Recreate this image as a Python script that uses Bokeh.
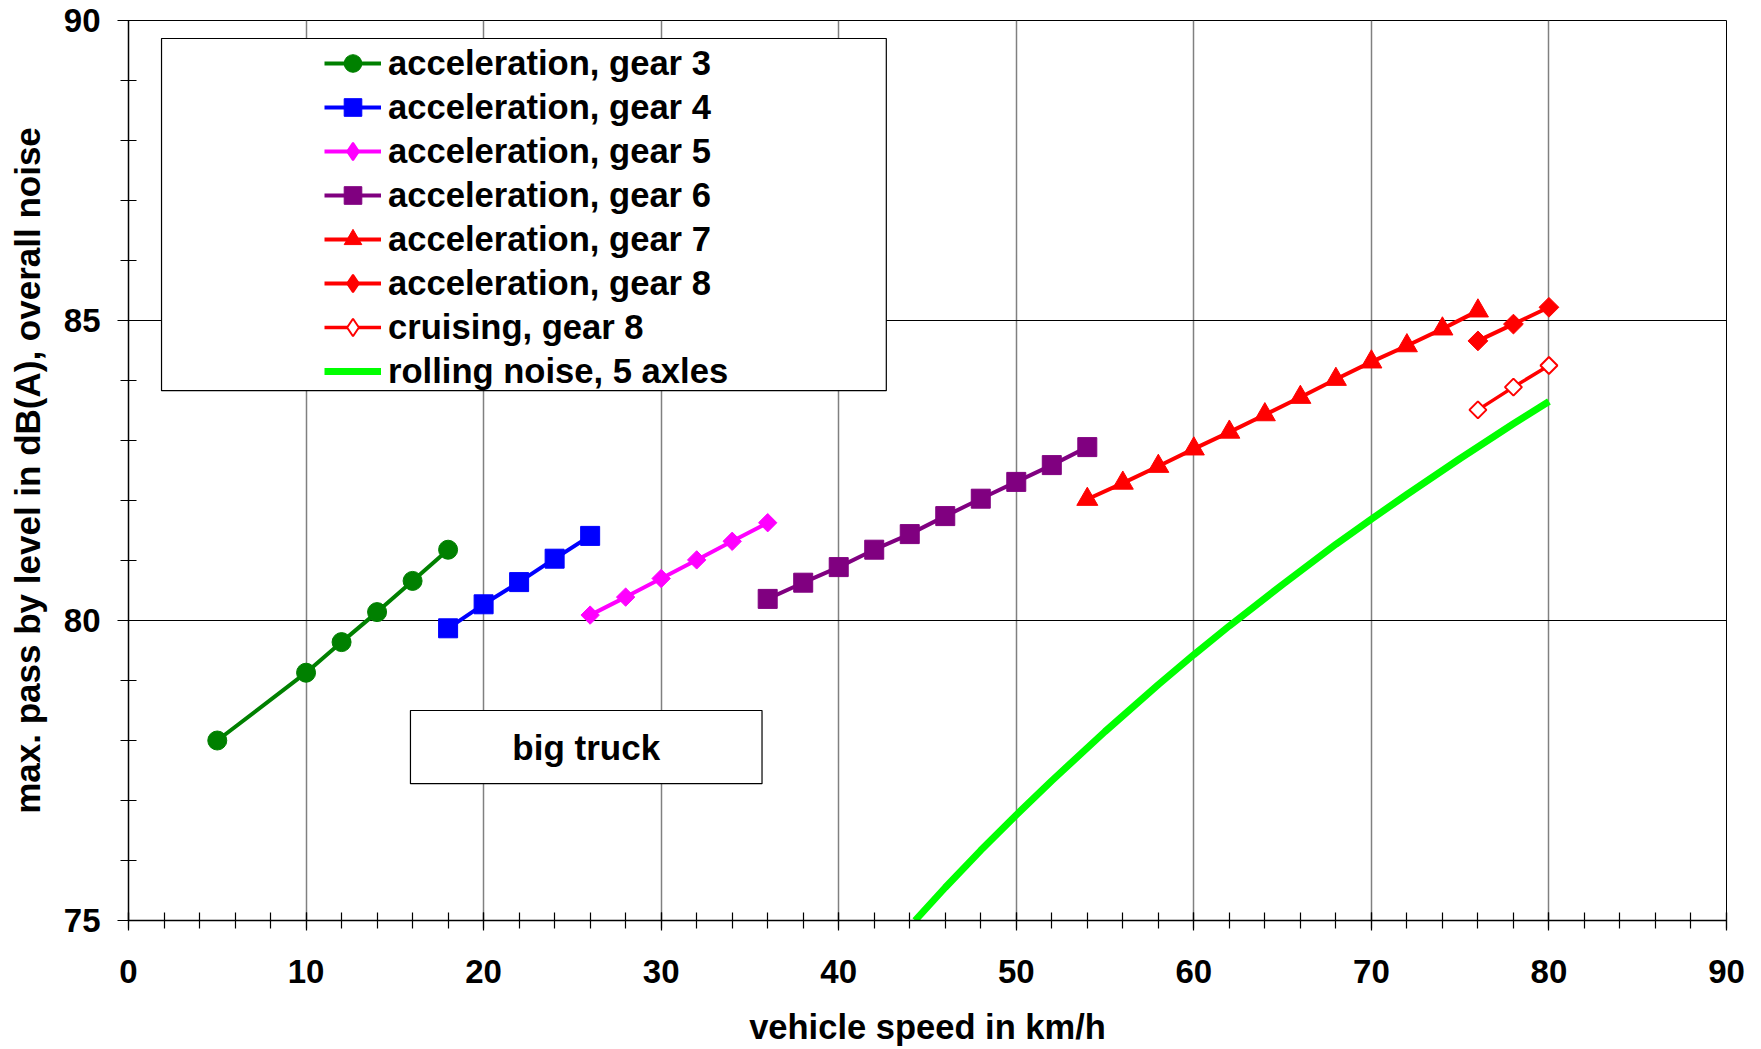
import math
from bokeh.plotting import figure
from bokeh.models import (Range1d, SingleIntervalTicker, Legend, LegendItem,
                          BoxAnnotation, Label)
from bokeh.embed import file_html
from bokeh.resources import INLINE

# ---------------- data ----------------
speed_g3 = [5, 10, 12, 14, 16, 18]
level_g3 = [78.00, 79.13, 79.64, 80.14, 80.66, 81.18]

speed_g4 = [18, 20, 22, 24, 26]
level_g4 = [79.87, 80.27, 80.64, 81.03, 81.41]

speed_g5 = [26, 28, 30, 32, 34, 36]
level_g5 = [80.09, 80.39, 80.70, 81.01, 81.32, 81.63]

speed_g6 = [36, 38, 40, 42, 44, 46, 48, 50, 52, 54]
level_g6 = [80.36, 80.63, 80.89, 81.18, 81.44, 81.74, 82.03, 82.31, 82.59, 82.89]

speed_g7 = [54, 56, 58, 60, 62, 64, 66, 68, 70, 72, 74, 76]
level_g7 = [82.02, 82.29, 82.57, 82.86, 83.14, 83.43, 83.72, 84.02, 84.31, 84.58, 84.86, 85.16]

speed_g8 = [76, 78, 80]
level_g8 = [84.66, 84.94, 85.22]

speed_cruise8 = [76, 78, 80]
level_cruise8 = [83.51, 83.89, 84.25]

speed_rolling = [44.3, 46, 48, 50, 52, 55, 58, 60, 62, 65, 68, 70, 72, 75, 78, 80]
level_rolling = [75.00, 75.55, 76.17, 76.76, 77.33, 78.15, 78.93, 79.43, 79.91,
                 80.60, 81.27, 81.69, 82.10, 82.70, 83.28, 83.65]

labels = ["acceleration, gear 3", "acceleration, gear 4", "acceleration, gear 5",
          "acceleration, gear 6", "acceleration, gear 7", "acceleration, gear 8",
          "cruising, gear 8", "rolling noise, 5 axles"]

FONT = "Liberation Sans"

# ---------------- figure ----------------
p = figure(width=1761, height=1049, output_backend="svg", toolbar_location=None,
           x_range=Range1d(0, 90), y_range=Range1d(75, 90),
           min_border_left=128, min_border_right=35,
           min_border_top=20, min_border_bottom=129)
p.outline_line_color = "black"
p.outline_line_width = 1
p.background_fill_color = "white"
p.border_fill_color = "white"

p.xaxis.ticker = SingleIntervalTicker(interval=10, num_minor_ticks=5)
p.yaxis.ticker = SingleIntervalTicker(interval=5, num_minor_ticks=5)

for ax in (p.xaxis[0], p.yaxis[0]):
    ax.axis_line_color = "black"
    ax.axis_line_width = 1.5
    ax.major_tick_line_color = "black"
    ax.minor_tick_line_color = "black"
    ax.major_tick_line_width = 1.2
    ax.minor_tick_line_width = 1.2
    ax.major_label_text_font = FONT
    ax.major_label_text_font_style = "bold"
    ax.major_label_text_font_size = "33px"
    ax.major_label_text_color = "black"
    ax.axis_label_text_font = FONT
    ax.axis_label_text_font_style = "bold"
    ax.axis_label_text_color = "black"

p.xaxis.major_tick_in = 8
p.xaxis.major_tick_out = 10
p.xaxis.minor_tick_in = 8
p.xaxis.minor_tick_out = 8
p.xaxis.major_label_standoff = 29
p.xaxis.axis_label = "vehicle speed in km/h"
p.xaxis.axis_label_text_font_size = "34.5px"
p.xaxis.axis_label_standoff = 22

p.yaxis.major_tick_in = 0
p.yaxis.major_tick_out = 11
p.yaxis.minor_tick_in = 8
p.yaxis.minor_tick_out = 8
p.yaxis.major_label_standoff = 17
p.yaxis.axis_label = "max. pass by level in dB(A), overall noise"
p.yaxis.axis_label_text_font_size = "35px"
p.yaxis.axis_label_standoff = 14

p.xgrid.grid_line_color = "#808080"
p.xgrid.grid_line_width = 1.5
p.ygrid.grid_line_color = "black"
p.ygrid.grid_line_width = 1

# ---------------- series ----------------
GREEN = "#008000"
BLUE = "#0000FF"
MAGENTA = "#FF00FF"
PURPLE = "#800080"
RED = "#FF0000"
LIME = "#00FF00"
DIAMOND = math.pi / 4

items = []

l3 = p.line(speed_g3, level_g3, line_color=GREEN, line_width=4)
m3 = p.scatter(speed_g3, level_g3, marker="circle", size=19,
               fill_color=GREEN, line_color=GREEN)
items.append(LegendItem(label=labels[0], renderers=[l3, m3]))

l4 = p.line(speed_g4, level_g4, line_color=BLUE, line_width=4)
m4 = p.scatter(speed_g4, level_g4, marker="square", size=19,
               fill_color=BLUE, line_color=BLUE)
items.append(LegendItem(label=labels[1], renderers=[l4, m4]))

l5 = p.line(speed_g5, level_g5, line_color=MAGENTA, line_width=4)
m5 = p.scatter(speed_g5, level_g5, marker="square", size=13, angle=DIAMOND,
               fill_color=MAGENTA, line_color=MAGENTA)
# legend swatch only (hidden in the plot): a diamond marker
k5 = p.scatter(speed_g5, level_g5, marker="diamond", fill_color=MAGENTA,
               line_color=MAGENTA, line_width=2, visible=False)
items.append(LegendItem(label=labels[2], renderers=[l5, k5]))

l6 = p.line(speed_g6, level_g6, line_color=PURPLE, line_width=4)
m6 = p.scatter(speed_g6, level_g6, marker="square", size=19,
               fill_color=PURPLE, line_color=PURPLE)
items.append(LegendItem(label=labels[3], renderers=[l6, m6]))

l7 = p.line(speed_g7, level_g7, line_color=RED, line_width=4)
m7 = p.scatter(speed_g7, level_g7, marker="triangle", size=21,
               fill_color=RED, line_color=RED)
items.append(LegendItem(label=labels[4], renderers=[l7, m7]))

l8 = p.line(speed_g8, level_g8, line_color=RED, line_width=4)
m8 = p.scatter(speed_g8, level_g8, marker="square", size=14, angle=DIAMOND,
               fill_color=RED, line_color=RED)
k8 = p.scatter(speed_g8, level_g8, marker="diamond", fill_color=RED,
               line_color=RED, line_width=2, visible=False)
items.append(LegendItem(label=labels[5], renderers=[l8, k8]))

lc = p.line(speed_cruise8, level_cruise8, line_color=RED, line_width=3.5)
mc = p.scatter(speed_cruise8, level_cruise8, marker="square", size=12, angle=DIAMOND,
               fill_color="white", line_color=RED, line_width=2)
kc = p.scatter(speed_cruise8, level_cruise8, marker="diamond", fill_color="white",
               line_color=RED, line_width=2, visible=False)
items.append(LegendItem(label=labels[6], renderers=[lc, kc]))

lr = p.line(speed_rolling, level_rolling, line_color=LIME, line_width=7)
items.append(LegendItem(label=labels[7], renderers=[lr]))

# ---------------- legend (white box + borderless legend) ----------------
legend_box = BoxAnnotation(left=1.86, right=42.68, top=89.70, bottom=83.83,
                           fill_color="white", fill_alpha=1.0,
                           line_color="black", line_alpha=1.0, line_width=1.2,
                           level="annotation")
p.add_layout(legend_box)

legend = Legend(items=items, location=(196, 527), orientation="vertical",
                padding=0, spacing=0, margin=0,
                glyph_width=57, glyph_height=44, label_height=44,
                label_standoff=7,
                label_text_font=FONT, label_text_font_style="bold",
                label_text_font_size="34.6px", label_text_color="black",
                border_line_color=None, background_fill_alpha=0,
                inactive_fill_alpha=0)
p.add_layout(legend)

# ---------------- "big truck" box ----------------
truck_box = BoxAnnotation(left=15.88, right=35.68, top=78.50, bottom=77.28,
                          fill_color="white", fill_alpha=1.0,
                          line_color="black", line_alpha=1.0, line_width=1.2,
                          level="annotation")
p.add_layout(truck_box)
p.add_layout(Label(x=25.78, y=77.89, text="big truck", text_align="center",
                   text_baseline="middle", text_font=FONT, text_font_style="bold",
                   text_font_size="35px", text_color="black"))

open("out.html", "w").write(file_html(p, INLINE))
